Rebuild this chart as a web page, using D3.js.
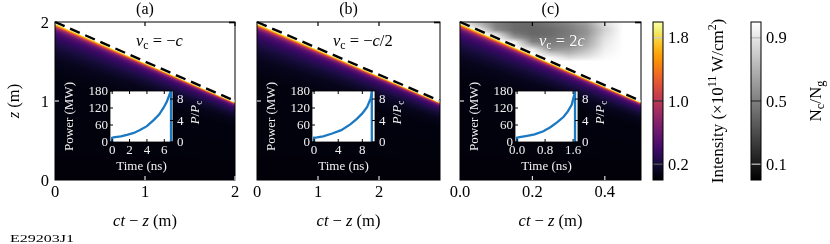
<!DOCTYPE html>
<html><head><meta charset="utf-8">
<script src="https://cdn.jsdelivr.net/npm/d3@7"></script>
<style>
body{margin:0;background:#fff}
#wrap{position:relative;width:830px;height:244px;overflow:hidden}
canvas,svg{position:absolute;left:0;top:0}
</style></head>
<body><div id="wrap"><canvas id="cv" width="830" height="244"></canvas><svg id="svg" width="830" height="244"></svg></div>
<script>
// ---------------- DATA ----------------
const panelTitles = ["(a)", "(b)", "(c)"];
const xMaxValues = [2, 3, 0.5];                 // ct - z extent (m)
const xTickValues = [[0, 1, 2], [0, 1, 2], [0, 0.2, 0.4]];
const xTickFormats = ["d", "d", ".1f"];
const zTicks = [0, 1, 2];
const frontX = [0, 1];                          // fraction of panel extent
const frontZ = [2, 1];                          // dashed front line z (m)
const speedNumerators = ["\u2212c", "\u2212c/2", "2c"];

// intensity profile behind the front (depth in m, intensity ×1e11 W/cm²)
const frontDepth = [0, 0.015, 0.03, 0.045, 0.065, 0.09, 0.13, 0.2, 0.3, 0.45, 0.7, 2.0];
const frontIntensity = [1.95, 1.7, 1.3, 1.0, 0.75, 0.55, 0.42, 0.3, 0.2, 0.1, 0.05, 0.03];
const bandScaleX = [0, 0.5, 1];
const bandScale = [1.0, 0.7, 0.45];

// Nc/Ng above the front in panel (c)
const ncGridX = [0, 0.05, 0.1, 0.15, 0.2, 0.25, 0.3, 0.35, 0.4, 0.45, 0.5];
const ncGridZ = [2.0, 1.95, 1.9, 1.85, 1.8, 1.75, 1.7, 1.65, 1.6, 1.55, 1.5];
const ncGrid = [
  [1, 0.7, 0.5, 0.42, 0.42, 0.48, 0.55, 0.65, 0.88, 1, 1],
  [1, 0.8, 0.5, 0.42, 0.4, 0.45, 0.5, 0.6, 0.85, 1, 1],
  [1, 1, 0.55, 0.42, 0.4, 0.42, 0.48, 0.58, 0.82, 1, 1],
  [1, 1, 0.85, 0.48, 0.4, 0.42, 0.48, 0.58, 0.85, 1, 1],
  [1, 1, 1, 0.62, 0.45, 0.45, 0.5, 0.62, 0.88, 1, 1],
  [1, 1, 1, 0.95, 0.5, 0.48, 0.52, 0.64, 0.9, 1, 1],
  [1, 1, 1, 1, 0.7, 0.52, 0.55, 0.68, 0.92, 1, 1],
  [1, 1, 1, 1, 0.95, 0.6, 0.62, 0.75, 0.94, 1, 1],
  [1, 1, 1, 1, 1, 0.8, 0.72, 0.82, 0.96, 1, 1],
  [1, 1, 1, 1, 1, 0.97, 0.85, 0.9, 0.98, 1, 1],
  [1, 1, 1, 1, 1, 1, 1, 1, 1, 1, 1]
];

// insets: laser power vs time
const insetTimeA = [0, 0, 0.15, 1.0, 1.7, 2.5, 3.2, 4.0, 4.8, 5.4, 5.9, 6.3, 6.7, 6.77, 6.77];
const insetPowerA = [0, 15, 16.5, 20, 25, 32, 42, 56, 78, 97, 120, 143, 176, 180, 0];
const insetTimeB = [0, 0, 0.5, 1.5, 3, 4.5, 6, 7, 8, 8.8, 9.4, 9.57, 9.57];
const insetPowerB = [0, 15, 16, 20, 30, 42, 62, 80, 101, 124, 155, 180, 0];
const insetTimeC = [0, 0, 0.07, 0.25, 0.5, 0.75, 0.95, 1.15, 1.33, 1.45, 1.56, 1.63, 1.655, 1.655];
const insetPowerC = [0, 15, 17, 21, 27, 38, 52, 70, 89, 108, 131, 166, 180, 0];
const insetTimeDomains = [[-0.25, 7.0], [-0.35, 10.1], [-0.06, 1.74]];
const insetTimeTicks = [[0, 2, 4, 6], [0, 4, 8], [0, 0.8, 1.6]];
const insetTimeFormats = ["d", "d", ".1f"];
const powerTicks = [0, 60, 120, 180];
const ratioTicks = [0, 4, 8];
const ratioMax = 9.5;

const intensityTicks = [0.2, 1.0, 1.8];
const densityTicks = [0.1, 0.5, 0.9];

// ---------------- LAYOUT ----------------
const FONT = "'Liberation Serif','Times New Roman',serif";
const panelLeft = [55, 257, 460], panelWidth = [180, 183, 181];
const plotTop = 22, plotBottom = 180;
const svg = d3.select("#svg");
const ctx = document.getElementById("cv").getContext("2d");
const yScale = d3.scaleLinear().domain([0, 2]).range([plotBottom, plotTop]);

const depthScale = d3.scaleLinear().domain(frontDepth).range(frontIntensity).clamp(true);
const bandScaleFn = d3.scaleLinear().domain(bandScaleX).range(bandScale).clamp(true);
const lut = d3.range(256).map(i => d3.rgb(d3.interpolateInferno(i / 255)));
const ixScale = d3.scaleLinear().domain(ncGridX).range(d3.range(ncGridX.length)).clamp(true);
const izScale = d3.scaleLinear().domain(ncGridZ).range(d3.range(ncGridZ.length)).clamp(true);
function ncAt(x, z) {
  const fx = ixScale(x), fz = izScale(z);
  const i0 = Math.floor(fx), j0 = Math.floor(fz);
  const i1 = Math.min(i0 + 1, ncGridX.length - 1), j1 = Math.min(j0 + 1, ncGridZ.length - 1);
  const tx = fx - i0, tz = fz - j0;
  const a = ncGrid[j0][i0] * (1 - tx) + ncGrid[j0][i1] * tx;
  const b = ncGrid[j1][i0] * (1 - tx) + ncGrid[j1][i1] * tx;
  return a * (1 - tz) + b * tz;
}

const insetData = [[insetTimeA, insetPowerA], [insetTimeB, insetPowerB], [insetTimeC, insetPowerC]];

function subText(sel, parts) {
  parts.forEach(([t, s]) => {
    const ts = sel.append("tspan").text(t);
    if (s === "i") ts.attr("font-style", "italic");
    if (s === "sub") ts.attr("font-size", "0.72em").attr("dy", "0.28em");
    if (s === "sup") ts.attr("font-size", "0.7em").attr("dy", "-0.55em");
    if (s === "after-sub") ts.attr("dy", "-0.2em");
    if (s === "after-sup") ts.attr("dy", "0.38em");
  });
}

panelTitles.forEach((title, i) => {
  const L = panelLeft[i], Wd = panelWidth[i], xMax = xMaxValues[i];
  const xScale = d3.scaleLinear().domain([0, xMax]).range([L, L + Wd]);
  const frontLine = d3.scaleLinear().domain(frontX.map(f => f * xMax)).range(frontZ);

  const h = plotBottom - plotTop;
  const img = ctx.createImageData(Wd, h);
  for (let py = 0; py < h; py++) {
    const z = yScale.invert(plotTop + py + 0.5);
    for (let px = 0; px < Wd; px++) {
      const x = xScale.invert(L + px + 0.5);
      const zf = frontLine(x) - 0.02;
      let r, g, b;
      if (z > zf) {
        if (i === 2) { const v = Math.round(255 * ncAt(x, z)); r = g = b = v; }
        else { r = g = b = 255; }
      } else {
        const d = (zf - z) / bandScaleFn(x / xMax);
        const I = depthScale(d);
        const c = lut[Math.max(0, Math.min(255, Math.round(I / 2 * 255)))];
        r = c.r; g = c.g; b = c.b;
      }
      const k = (py * Wd + px) * 4;
      img.data[k] = r; img.data[k + 1] = g; img.data[k + 2] = b; img.data[k + 3] = 255;
    }
  }
  ctx.putImageData(img, L, plotTop);

  const g = svg.append("g");
  g.append("rect").attr("x", L).attr("y", plotTop).attr("width", Wd).attr("height", h)
    .attr("fill", "none").attr("stroke", "#000").attr("stroke-width", 1);
  const line = d3.line().x(d => xScale(d[0])).y(d => yScale(d[1]));
  g.append("path").datum(frontX.map((f, k) => [f * xMax, frontZ[k]]))
    .attr("d", line).attr("fill", "none").attr("stroke", "#000")
    .attr("stroke-width", 2.4).attr("stroke-dasharray", "10.5,6");

  xTickValues[i].forEach(v => {
    if (v === 0) return;
    g.append("line").attr("x1", xScale(v)).attr("x2", xScale(v)).attr("y1", plotTop).attr("y2", plotTop + 4)
      .attr("stroke", "#000").attr("stroke-width", 1.2);
    g.append("line").attr("x1", xScale(v)).attr("x2", xScale(v)).attr("y1", plotBottom).attr("y2", plotBottom - 4)
      .attr("stroke", "#ddd").attr("stroke-width", 1.2);
  });
  g.append("line").attr("x1", L).attr("x2", L + 4).attr("y1", yScale(1)).attr("y2", yScale(1)).attr("stroke", "#ddd").attr("stroke-width", 1.2);
  g.append("line").attr("x1", L + Wd).attr("x2", L + Wd - 4).attr("y1", yScale(1)).attr("y2", yScale(1)).attr("stroke", "#ddd").attr("stroke-width", 1.2);
  g.append("line").attr("x1", L + Wd).attr("x2", L + Wd - 6).attr("y1", yScale(2) + 0.5).attr("y2", yScale(2) + 0.5).attr("stroke", "#000").attr("stroke-width", 1.6);

  const fmt = d3.format(xTickFormats[i]);
  xTickValues[i].forEach(v => {
    g.append("text").attr("x", xScale(v)).attr("y", 197).attr("text-anchor", "middle")
      .attr("font-family", FONT).attr("font-size", 16.5).text(fmt(v));
  });
  const xl = g.append("text").attr("x", L + Wd / 2).attr("y", 226).attr("text-anchor", "middle")
    .attr("font-family", FONT).attr("font-size", 16.5);
  subText(xl, [["ct", "i"], [" \u2212 ", "n"], ["z", "i"], [" (m)", "n"]]);
  g.append("text").attr("x", L + Wd / 2).attr("y", 14).attr("text-anchor", "middle")
    .attr("font-family", FONT).attr("font-size", 16).text(title);

  const sx = [136, 333, 539][i];
  const st = g.append("text").attr("x", sx).attr("y", 46).attr("font-family", FONT).attr("font-size", 16.5)
    .attr("fill", i === 2 ? "#fff" : "#000");
  if (i === 2) st.attr("stroke", "#666").attr("stroke-width", 0.5).attr("paint-order", "stroke");
  const num = speedNumerators[i];
  const pieces = [["v", "i"], ["c", "sub"], [" = ", "after-sub"]];
  if (num[0] === "\u2212") { pieces.push(["\u2212", "n"]); pieces.push(["c", "i"]); if (num.length > 2) pieces.push([num.slice(2), "n"]); }
  else { pieces.push(["2", "n"]); pieces.push(["c", "i"]); }
  subText(st, pieces);

  // inset
  const iL = L + 55, iT = 91, iW = 63, iH = 51;
  const tScale = d3.scaleLinear().domain(insetTimeDomains[i]).range([iL, iL + iW]);
  const pScale = d3.scaleLinear().domain([0, 180]).range([iT + iH, iT]);
  const rScale = d3.scaleLinear().domain([0, ratioMax]).range([iT + iH, iT]);
  const ig = g.append("g");
  ig.append("rect").attr("x", iL).attr("y", iT).attr("width", iW).attr("height", iH).attr("fill", "#fff");
  const clipId = "clip" + i;
  ig.append("clipPath").attr("id", clipId).append("rect").attr("x", iL).attr("y", iT).attr("width", iW).attr("height", iH);
  const [ts, ps] = insetData[i];
  const pl = d3.line().x(d => tScale(d[0])).y(d => pScale(d[1]));
  ig.append("path").datum(ts.map((t, k) => [t, ps[k]])).attr("d", pl).attr("fill", "none")
    .attr("stroke", "#1b78c2").attr("stroke-width", 2.3).attr("clip-path", `url(#${clipId})`);
  insetTimeTicks[i].forEach(v => {
    ig.append("line").attr("x1", tScale(v)).attr("x2", tScale(v)).attr("y1", iT).attr("y2", iT + 3).attr("stroke", "#000");
    ig.append("line").attr("x1", tScale(v)).attr("x2", tScale(v)).attr("y1", iT + iH).attr("y2", iT + iH - 3).attr("stroke", "#000");
  });
  powerTicks.forEach(v => {
    ig.append("line").attr("x1", iL).attr("x2", iL + 3).attr("y1", pScale(v)).attr("y2", pScale(v)).attr("stroke", "#000");
  });
  ratioTicks.forEach(v => {
    ig.append("line").attr("x1", iL + iW).attr("x2", iL + iW - 3).attr("y1", rScale(v)).attr("y2", rScale(v)).attr("stroke", "#000");
  });
  ig.append("rect").attr("x", iL).attr("y", iT).attr("width", iW).attr("height", iH)
    .attr("fill", "none").attr("stroke", "#000").attr("stroke-width", 0.8);
  const tf = d3.format(insetTimeFormats[i]);
  const lblColor = "#f2f2f2";
  insetTimeTicks[i].forEach(v => {
    ig.append("text").attr("x", tScale(v)).attr("y", iT + iH + 12).attr("text-anchor", "middle")
      .attr("font-family", FONT).attr("font-size", 13).attr("fill", lblColor).text(tf(v));
  });
  powerTicks.forEach(v => {
    ig.append("text").attr("x", iL - 2).attr("y", pScale(v) + 4.3).attr("text-anchor", "end")
      .attr("font-family", FONT).attr("font-size", 13).attr("fill", lblColor).text(v);
  });
  ratioTicks.forEach(v => {
    ig.append("text").attr("x", iL + iW + 4).attr("y", rScale(v) + 4.3).attr("text-anchor", "start")
      .attr("font-family", FONT).attr("font-size", 13).attr("fill", lblColor).text(v);
  });
  ig.append("text").attr("x", iL + iW / 2).attr("y", iT + iH + 28).attr("text-anchor", "middle")
    .attr("font-family", FONT).attr("font-size", 13).attr("fill", lblColor).text("Time (ns)");
  ig.append("text").attr("transform", `translate(${iL - 37},${iT + iH / 2}) rotate(-90)`).attr("text-anchor", "middle")
    .attr("font-family", FONT).attr("font-size", 13).attr("fill", lblColor).text("Power (MW)");
  const pr = ig.append("text").attr("transform", `translate(${iL + iW + 26},${iT + iH / 2 - 4}) rotate(-90)`).attr("text-anchor", "middle")
    .attr("font-family", FONT).attr("font-size", 13).attr("fill", lblColor);
  subText(pr, [["P", "i"], ["/", "n"], ["P", "i"], ["c", "sub"]]);
});

zTicks.forEach(v => {
  svg.append("text").attr("x", 49).attr("y", yScale(v) + 5.5).attr("text-anchor", "end")
    .attr("font-family", FONT).attr("font-size", 16.5).text(v);
});
const yl = svg.append("text").attr("transform", `translate(19,${(plotTop + plotBottom) / 2}) rotate(-90)`).attr("text-anchor", "middle")
  .attr("font-family", FONT).attr("font-size", 16.5);
subText(yl, [["z", "i"], [" (m)", "n"]]);

svg.append("text").attr("x", 10).attr("y", 242).attr("font-family", FONT).attr("font-size", 11)
  .attr("textLength", 64).attr("lengthAdjust", "spacingAndGlyphs").text("E29203J1");

// colorbars
const defs = svg.append("defs");
const gi = defs.append("linearGradient").attr("id", "gInt").attr("x1", 0).attr("y1", 1).attr("x2", 0).attr("y2", 0);
d3.range(0, 1.0001, 0.05).forEach(t => gi.append("stop").attr("offset", t).attr("stop-color", d3.interpolateInferno(t)));
const gg = defs.append("linearGradient").attr("id", "gGray").attr("x1", 0).attr("y1", 1).attr("x2", 0).attr("y2", 0);
gg.append("stop").attr("offset", 0).attr("stop-color", "#000");
gg.append("stop").attr("offset", 1).attr("stop-color", "#fff");

const cbInt = d3.scaleLinear().domain([0, 2]).range([plotBottom, plotTop]);
const cbDen = d3.scaleLinear().domain([0, 1]).range([plotBottom, plotTop]);
function colorbar(x, grad, scale, ticks, tickColors, fmt) {
  svg.append("rect").attr("x", x).attr("y", plotTop).attr("width", 10).attr("height", plotBottom - plotTop).attr("fill", `url(#${grad})`);
  ticks.forEach((v, k) => {
    svg.append("line").attr("x1", x).attr("x2", x + 10).attr("y1", scale(v)).attr("y2", scale(v))
      .attr("stroke", tickColors[k]).attr("stroke-width", 1.3);
    svg.append("text").attr("x", x + 15).attr("y", scale(v) + 5.5).attr("font-family", FONT).attr("font-size", 16.5).text(d3.format(fmt)(v));
  });
  svg.append("rect").attr("x", x).attr("y", plotTop).attr("width", 10).attr("height", plotBottom - plotTop)
    .attr("fill", "none").attr("stroke", "#000").attr("stroke-width", 1);
}
colorbar(653, "gInt", cbInt, intensityTicks, ["#555", "#333", "#ccc"], ".1f");
colorbar(751, "gGray", cbDen, densityTicks, ["#bbb", "#333", "#bbb"], ".1f");

const il = svg.append("text").attr("transform", `translate(723,${(plotTop + plotBottom) / 2}) rotate(-90)`).attr("text-anchor", "middle")
  .attr("font-family", FONT).attr("font-size", 17);
subText(il, [["Intensity (\u00d710", "n"], ["11", "sup"], [" W/cm", "after-sup"], ["2", "sup"], [")", "after-sup"]]);
const nl = svg.append("text").attr("transform", `translate(821,${(plotTop + plotBottom) / 2}) rotate(-90)`).attr("text-anchor", "middle")
  .attr("font-family", FONT).attr("font-size", 17);
subText(nl, [["N", "n"], ["c", "sub"], ["/N", "after-sub"], ["g", "sub"]]);
</script>
</body></html>
